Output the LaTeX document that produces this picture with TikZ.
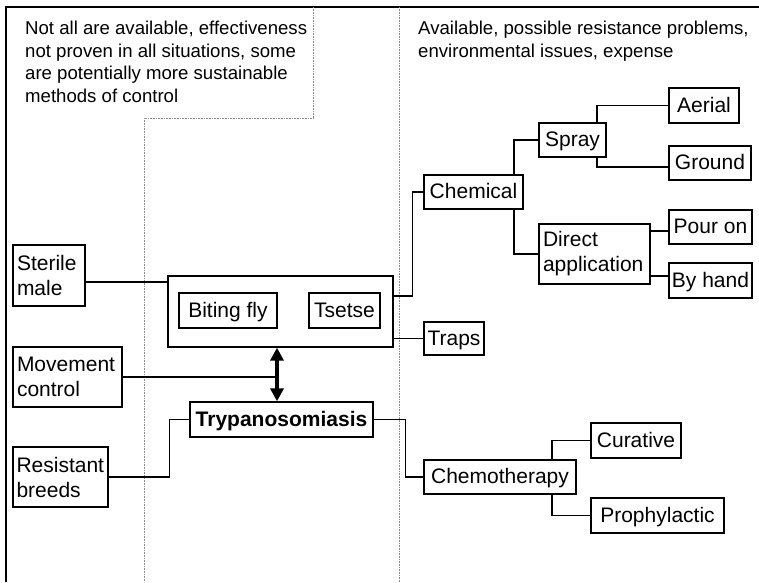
\documentclass[tikz,border=0pt]{standalone}
\usepackage{fontspec}
\setmainfont{Liberation Sans}
\usetikzlibrary{arrows.meta}
\begin{document}
\begin{tikzpicture}[x=1pt,y=-1pt,
  bx/.style={draw, line width=1.3pt, inner sep=0pt, font=\fontsize{21}{25}\selectfont, text height=15pt, text depth=1.5pt},
  bxl/.style={draw, line width=1.3pt, inner xsep=4pt, inner ysep=0pt, font=\fontsize{21}{25}\selectfont, align=left},
  conn/.style={line width=1.3pt},
  dotline/.style={black!45, line width=0.8pt, dash pattern=on 0.8pt off 0.8pt},
  hdr/.style={font=\fontsize{18.6}{22.8}\selectfont, align=left, inner sep=0pt},
  bigarrow/.style={line width=3.5pt, {Triangle[length=13pt,width=13pt]}-{Triangle[length=13pt,width=13pt]}}
]
\useasboundingbox (0,0) rectangle (759,582);
% frame
\draw[line width=2pt] (759,7) -- (6,7) -- (6,582);
% dotted separators
\draw[dotline] (313,7) -- (313,118) -- (144,118) -- (144,582);
\draw[dotline] (399,7) -- (399,582);
% headers (base anchor = baseline of last line)
\node[hdr, anchor=base west] (hl) at (25,102.7) {Not all are available, effectiveness\\not proven in all situations, some\\are potentially more sustainable\\methods of control};
\node[hdr, anchor=base west] (hr) at (418,57.1) {Available, possible resistance problems,\\environmental issues, expense};
% left boxes
\node[bxl, minimum width=72pt, minimum height=61pt, text width=64pt] (sterile) at (49,275.5) {Sterile\\male};
\node[bxl, minimum width=109pt, minimum height=60pt, text width=101pt] (movement) at (67.5,377) {Movement\\control};
\node[bxl, inner xsep=3.5pt, minimum width=95pt, minimum height=60pt, text width=88pt] (resistant) at (60.5,477) {Resistant\\breeds};
% center
\node[draw, line width=1.3pt, minimum width=225pt, minimum height=71pt, inner sep=0pt] (bigbox) at (280.5,311.5) {};
\node[bx, minimum width=98pt, minimum height=35pt] (biting) at (228,310.5) {Biting fly};
\node[bx, minimum width=71pt, minimum height=35pt] (tsetse) at (344.5,310.5) {Tsetse};
\node[bx, minimum width=183pt, minimum height=35pt, font=\fontsize{21}{25}\selectfont\bfseries] (trypa) at (281.5,419.5) {Trypanosomiasis};
% right
\node[bx, minimum width=99pt, minimum height=34pt] (chemical) at (473.5,192) {Chemical};
\node[bx, minimum width=67pt, minimum height=34pt] (spray) at (572.5,140) {Spray};
\node[bx, minimum width=70pt, minimum height=35pt] (aerial) at (704,105.5) {Aerial};
\node[bx, minimum width=82pt, minimum height=34pt] (ground) at (710,163) {Ground};
\node[bxl, minimum width=111pt, minimum height=60pt, text width=103pt] (direct) at (594.5,254) {Direct\\application};
\node[bx, minimum width=83pt, minimum height=34pt] (pouron) at (710.5,227) {Pour on};
\node[bx, minimum width=83pt, minimum height=35pt] (byhand) at (710.5,280.5) {By hand};
\node[bx, minimum width=60pt, minimum height=33pt] (traps) at (454,338.5) {Traps};
\node[bx, minimum width=152pt, minimum height=34pt] (chemo) at (500,477) {Chemotherapy};
\node[bx, minimum width=90pt, minimum height=35pt] (curative) at (636,440.5) {Curative};
\node[bx, minimum width=133pt, minimum height=35pt] (prophy) at (657.5,515.5) {Prophylactic};
% helper coordinates
\coordinate (s1) at ([yshift=-6.5pt]sterile.east);
\coordinate (ax) at ([xshift=-3.5pt]bigbox.south);
\coordinate (g1) at ([yshift=-4pt]ground.west);
\coordinate (p1) at ([yshift=-4pt]pouron.west);
\coordinate (b1) at ([yshift=4.5pt]byhand.west);
% connectors
\draw[conn] (s1) -- (s1 -| bigbox.west);
\draw[conn] (movement.east) -- (movement.east -| ax);
\draw[bigarrow] (ax) -- (ax |- trypa.north);
\draw[conn] (resistant.east) -- ++(61,0) |- (trypa.west);
\draw[conn] (trypa.east) -- ++(32,0) |- (chemo.west);
\draw[conn] ([xshift=52pt]chemo.north) |- (curative.west);
\draw[conn] ([xshift=52pt]chemo.south) |- (prophy.west);
\draw[conn] ([yshift=15.5pt]bigbox.east) -- ++(19,0) |- (chemical.west);
\draw[conn] (bigbox.east |- traps.west) -- (traps.west);
\draw[conn] ([xshift=40.5pt]chemical.north) |- (spray.west);
\draw[conn] ([xshift=40.5pt]chemical.south) |- (direct.west);
\draw[conn] ([xshift=24.5pt]spray.north) |- (aerial.west);
\draw[conn] ([xshift=24.5pt]spray.south) |- (g1);
\draw[conn] (p1 -| direct.east) -- (p1);
\draw[conn] (b1 -| direct.east) -- (b1);
\end{tikzpicture}
\end{document}
